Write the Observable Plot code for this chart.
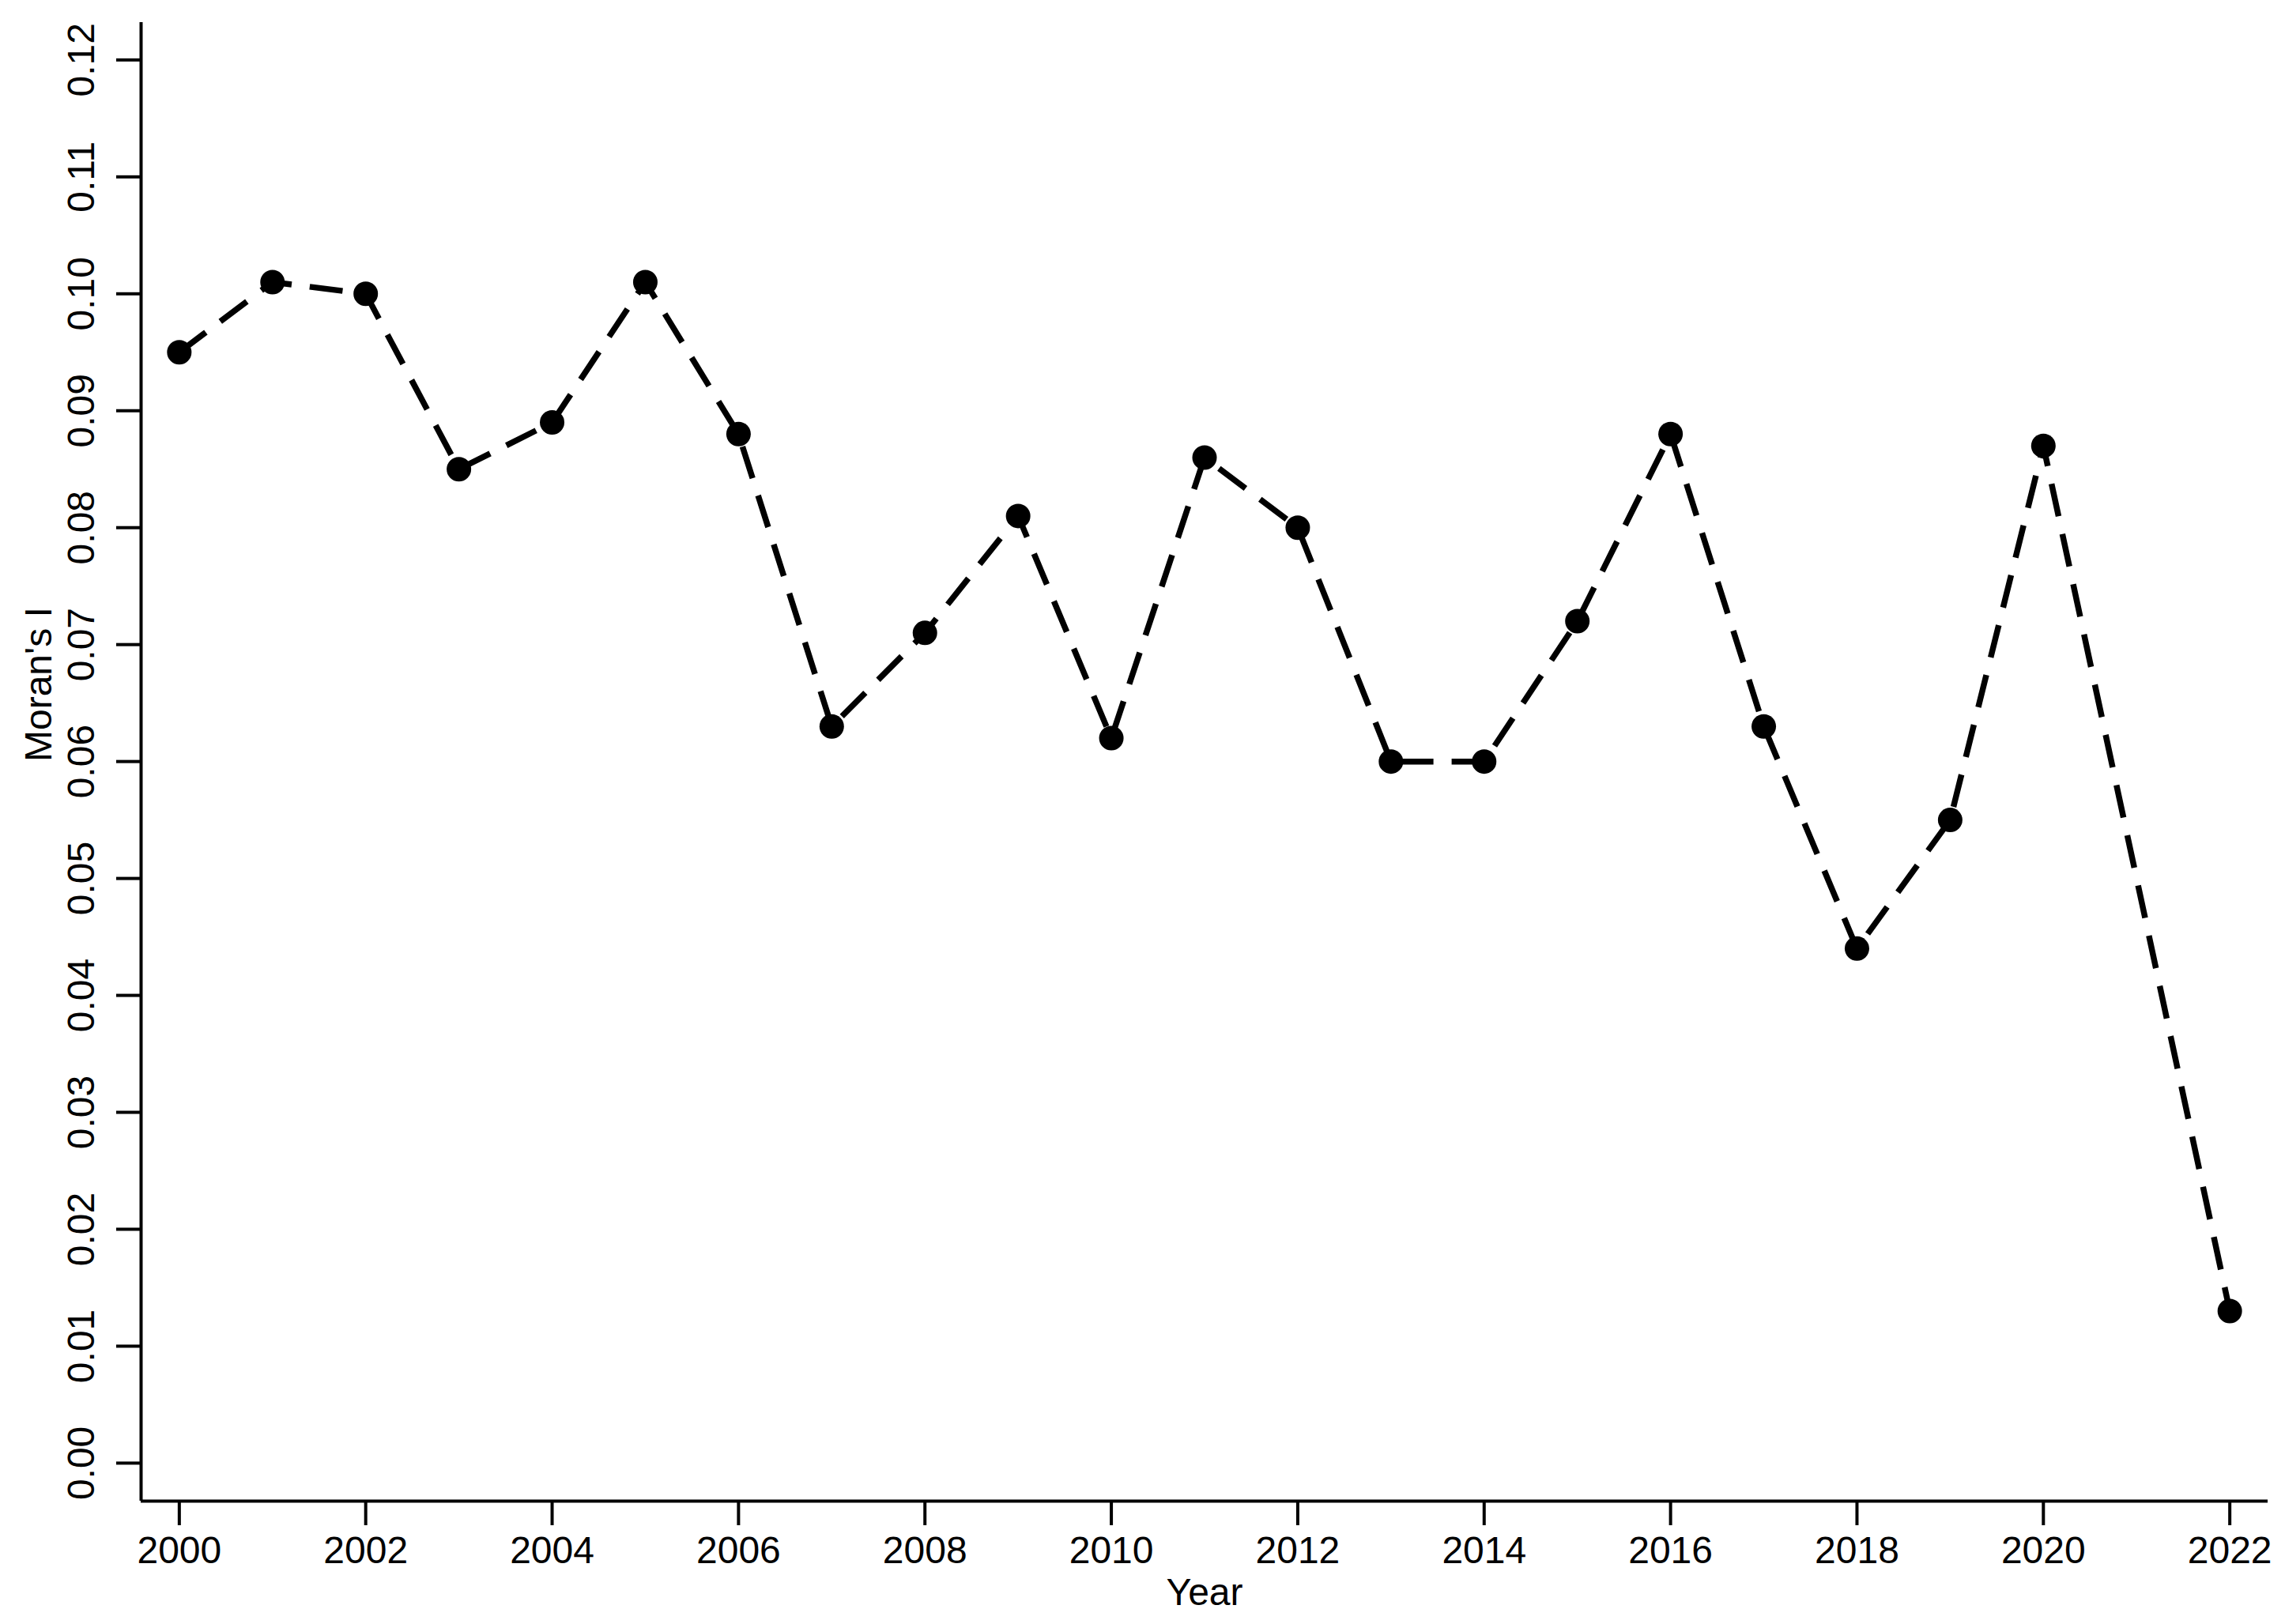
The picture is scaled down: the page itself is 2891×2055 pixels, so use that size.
<!DOCTYPE html>
<html>
<head>
<meta charset="utf-8">
<script src="https://cdn.jsdelivr.net/npm/d3@7"></script>
<script src="https://cdn.jsdelivr.net/npm/@observablehq/plot@0.6"></script>
<style>
  html, body { margin: 0; padding: 0; background: #fff; }
  #chart svg { display: block; }
</style>
</head>
<body>
<div id="chart"></div>
<script>
const years = [2000, 2001, 2002, 2003, 2004, 2005, 2006, 2007, 2008, 2009, 2010, 2011, 2012, 2013, 2014, 2015, 2016, 2017, 2018, 2019, 2020, 2022];
const moransI = [0.095, 0.101, 0.100, 0.085, 0.089, 0.101, 0.088, 0.063, 0.071, 0.081, 0.062, 0.086, 0.080, 0.060, 0.060, 0.072, 0.088, 0.063, 0.044, 0.055, 0.087, 0.013];
const xTicks = [2000, 2002, 2004, 2006, 2008, 2010, 2012, 2014, 2016, 2018, 2020, 2022];
const yTicks = [0.00, 0.01, 0.02, 0.03, 0.04, 0.05, 0.06, 0.07, 0.08, 0.09, 0.10, 0.11, 0.12];
const xDomain = [1999.59, 2022.41];
const yDomain = [-0.00325, 0.1232];
const xLabel = "Year";
const yLabel = "Moran's I";

const data = years.map((y, i) => ({year: y, value: moransI[i]}));

const chart = Plot.plot({
  width: 2891,
  height: 2055,
  marginLeft: 178,
  marginRight: 22,
  marginTop: 28,
  marginBottom: 156,
  style: {fontFamily: "'Liberation Sans', Arial, sans-serif", fontSize: "48px", color: "#000", background: "#fff"},
  x: {domain: xDomain},
  y: {domain: yDomain},
  marks: [
    Plot.ruleX([xDomain[0]], {stroke: "#000", strokeWidth: 4}),
    Plot.ruleY([yDomain[0]], {stroke: "#000", strokeWidth: 4}),
    Plot.axisX({ticks: xTicks, tickFormat: d => String(d), tickSize: 31, tickPadding: 13, strokeWidth: 4, label: null}),
    Plot.axisY({ticks: yTicks, tickFormat: d3.format(".2f"), tickSize: 31, tickPadding: 29, tickRotate: -90, strokeWidth: 4, label: null}),
    Plot.text([xLabel], {frameAnchor: "bottom", dy: 131, lineAnchor: "bottom", fontSize: 48, fill: "#000"}),
    Plot.text([yLabel], {frameAnchor: "left", dx: -148, rotate: -90, lineAnchor: "top", fontSize: 48, fill: "#000"}),
    Plot.line(data, {x: "year", y: "value", stroke: "#000", strokeWidth: 7.5, strokeDasharray: "42,23", strokeLinecap: "butt"}),
    Plot.dot(data, {x: "year", y: "value", r: 15.5, fill: "#000", stroke: "none"})
  ]
});
document.getElementById("chart").append(chart);
</script>
</body>
</html>
